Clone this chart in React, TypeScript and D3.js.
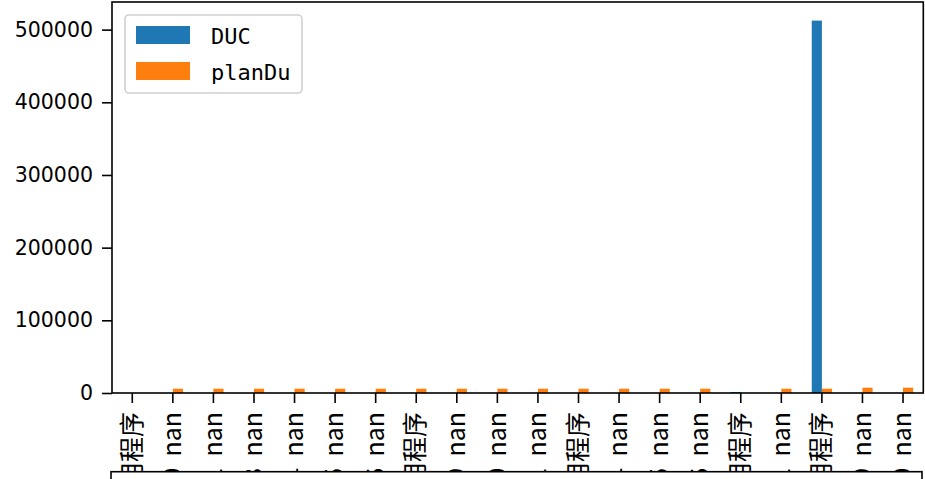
import React, { useEffect, useRef } from 'react';
import * as d3 from 'd3';

// x tick labels (only the end of each label is visible, the rest is hidden under the lower subplot)
const labels = [
  '2021-06-09 应用程序', '2021-06-10  nan', '2021-06-11  nan', '2021-06-13  nan', '2021-06-14  nan',
  '2021-06-15  nan', '2021-06-16  nan', '2021-06-17 应用程序', '2021-06-19  nan', '2021-06-20  nan',
  '2021-06-21  nan', '2021-06-22 应用程序', '2021-06-24  nan', '2021-06-25  nan', '2021-06-26  nan',
  '2021-06-27 应用程序', '2021-06-21  nan', '2021-06-28 应用程序', '2021-06-29  nan', '2021-06-30  nan',
];
const duc: (number | null)[] = [
  null, null, null, null, null, null, null, null, null, null,
  null, null, null, null, null, 1400, null, 512400, null, null,
];
const planDu: (number | null)[] = [
  null, 5900, 5900, 5900, 5900, 5900, 5900, 5900, 5900, 5900,
  5900, 5900, 5900, 5900, 5900, null, 5900, 5900, 7300, 7300,
];
const yTicks = [0, 100000, 200000, 300000, 400000, 500000];
const seriesNames = ['DUC', 'planDu'];
const colors = ['#1f77b4', '#ff7f0e'];

export default function App() {
  const svgRef = useRef<SVGSVGElement>(null);
  const width = 925;
  const height = 479;

  useEffect(() => {
    const svg = d3.select(svgRef.current);
    svg.selectAll('*').remove();

    const left = 112, right = 923.3, top = 2, bottom = 393;

    const x = d3.scaleBand<number>()
      .domain(labels.map((d, i) => i))
      .range([left, right])
      .padding(0);
    const y = d3.scaleLinear()
      .domain([0, 538000])
      .range([bottom, top]);

    const bw = x.bandwidth() * 0.25;
    const series = [duc, planDu];

    series.forEach((vals, s) => {
      svg.append('g')
        .selectAll('rect')
        .data(vals.map((v, i) => ({ v, i })).filter(d => d.v != null))
        .enter()
        .append('rect')
        .attr('x', d => x(d.i)! + x.bandwidth() / 2 + (s === 0 ? -bw : 0))
        .attr('y', d => y(d.v as number))
        .attr('width', bw)
        .attr('height', d => bottom - y(d.v as number))
        .attr('fill', colors[s]);
    });

    // y axis
    const yAxis = svg.append('g')
      .attr('transform', `translate(${left},0)`)
      .call(d3.axisLeft(y).tickValues(yTicks).tickFormat(d3.format('d')).tickSize(10).tickPadding(9));
    yAxis.select('.domain').remove();
    yAxis.selectAll('line').attr('stroke', '#000').attr('stroke-width', 1.6);
    yAxis.selectAll('text')
      .attr('font-family', '"DejaVu Sans", sans-serif')
      .attr('font-size', 20.5)
      .attr('fill', '#000');

    // x axis
    const xAxis = svg.append('g')
      .attr('transform', `translate(0,${bottom})`)
      .call(d3.axisBottom(x).tickFormat(i => labels[i as number]).tickSize(10));
    xAxis.select('.domain').remove();
    xAxis.selectAll('line').attr('stroke', '#000').attr('stroke-width', 1.6);
    xAxis.selectAll('text')
      .attr('font-family', '"Noto Sans CJK SC", sans-serif')
      .attr('font-size', 25)
      .attr('fill', '#000')
      .attr('text-anchor', 'end')
      .style('white-space', 'pre')
      .attr('transform', 'translate(0,19) rotate(-90)')
      .attr('x', 0)
      .attr('y', 0)
      .attr('dy', '0.33em');

    // frame
    svg.append('rect')
      .attr('x', left).attr('y', top)
      .attr('width', right - left).attr('height', bottom - top)
      .attr('fill', 'none').attr('stroke', '#000').attr('stroke-width', 1.6);

    // lower subplot covering the label tails
    svg.append('rect')
      .attr('x', 111).attr('y', 471.7)
      .attr('width', 922 - 111).attr('height', 40)
      .attr('fill', '#fff').attr('stroke', '#000').attr('stroke-width', 1.6);

    // legend
    const lg = svg.append('g');
    lg.append('rect')
      .attr('x', 125).attr('y', 15).attr('width', 177).attr('height', 78).attr('rx', 4)
      .attr('fill', '#fff').attr('fill-opacity', 0.8)
      .attr('stroke', '#d0d0d0').attr('stroke-width', 1.6);
    seriesNames.forEach((name, i) => {
      lg.append('rect')
        .attr('x', 136).attr('y', 26 + i * 36).attr('width', 54).attr('height', 18)
        .attr('fill', colors[i]);
      lg.append('text')
        .attr('x', 211).attr('y', 44 + i * 36)
        .attr('font-family', '"DejaVu Sans Mono", monospace')
        .attr('font-size', 22)
        .attr('fill', '#000')
        .text(name);
    });
  }, []);

  return (
    <svg ref={svgRef} width={width} height={height}
      style={{ position: 'absolute', left: 0, top: 0, background: '#fff' }} />
  );
}
